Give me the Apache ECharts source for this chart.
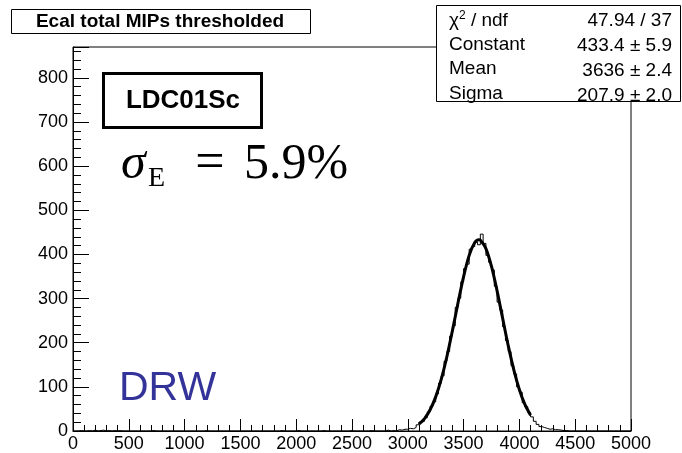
<!DOCTYPE html>
<html><head><meta charset="utf-8">
<script src="https://cdn.jsdelivr.net/npm/echarts@6/dist/echarts.min.js"></script>
<style>html,body{margin:0;padding:0;background:#fff}#c{width:682px;height:453px}</style>
</head><body><div id="c"></div>
<script>
// ---- data ----
const binWidth = 25;
const xMin = 0, xMax = 5000;
const yMin = 0, yMax = 870;
// non-empty histogram bins: left edge and count
const histBinStart = [50,125,175,225,250,300,350,400,700,1175,1850,2000,2225,2475,2650,2800,2850,2900,2925,2950,2975,
  3000,3025,3050,3075,3100,3125,3150,3175,3200,3225,3250,3275,3300,3325,3350,3375,3400,3425,3450,3475,
  3500,3525,3550,3575,3600,3625,3650,3675,3700,3725,3750,3775,3800,3825,3850,3875,3900,3925,3950,3975,
  4000,4025,4050,4075,4100,4125,4150,4175,4200,4225,4250,4275,4300,4325,4350,4375,4400];
const histCounts = [1,1,2,1,2,1,1,1,1,1,1,1,1,1,1,2,1,3,2,4,4,
  6,5,8,14,20,22,30,43,56,66,84,108,125,158,180,215,238,280,301,338,
  368,378,412,418,428,422,446,425,398,382,365,328,292,274,236,205,180,148,129,100,
  88,64,55,42,32,22,15,10,8,6,4,5,3,3,2,1,1];
// gaussian fit curve (as drawn)
const fitX = [3100,3150,3200,3250,3300,3350,3400,3450,3500,3550,3600,3636,3650,3700,3750,3800,3850,3900,3950,4000,4050,4100];
const fitY = [15.6,28.2,48.1,77.3,117.4,168.2,227.5,290.5,349.9,397.9,426.9,433.4,432.4,413.3,372.9,317.6,255.1,193.5,138.6,93.6,59.7,35.9];
const titleText = 'Ecal total MIPs thresholded';
const statsLabels = ['{n|χ}{s|2}{n| / ndf}', 'Constant', 'Mean', 'Sigma'];
const statsValues = ['47.94 / 37', '433.4 ± 5.9', '3636 ± 2.4', '207.9 ± 2.0'];
const detectorLabel = 'LDC01Sc';
const resolutionLabel = '5.9%';
const authorLabel = 'DRW';

// ---- build histogram steps ----
const nBins = Math.round((xMax - xMin) / binWidth);
const counts = new Array(nBins).fill(0);
histBinStart.forEach((s, i) => { counts[Math.round((s - xMin) / binWidth)] = histCounts[i]; });
const histData = [];
for (let i = 0; i < nBins; i++) histData.push([xMin + i * binWidth, counts[i]]);
histData.push([xMax, counts[nBins - 1]]);
const fitData = fitX.map((x, i) => [x, fitY[i]]);

const FONT = '"Liberation Sans", Arial, Helvetica, sans-serif';
const SERIF = '"Liberation Serif", "DejaVu Serif", serif';

const chart = echarts.init(document.getElementById('c'), null, {renderer: 'canvas'});
const axisCommon = {
  axisLine: {show: true, onZero: false, lineStyle: {color: '#000', width: 1}},
  splitLine: {show: false},
  axisLabel: {color: '#000', fontFamily: FONT, fontSize: 18, formatter: v => String(v)},
};
const statsGraphics = [];
statsLabels.forEach((t, i) => {
  const y = 21 + i * 24.8;
  statsGraphics.push({type: 'text', left: 449, top: y - 11, z: 101,
    style: {text: t, fontFamily: FONT, fontSize: 19, fill: '#000',
      rich: {n: {fontFamily: FONT, fontSize: 19, fill: '#000'}, s: {fontFamily: FONT, fontSize: 12, fill: '#000', verticalAlign: 'top', padding: [0, 0, 9, 0]}}}});
  statsGraphics.push({type: 'text', x: 672, y: y, z: 101,
    style: {text: statsValues[i], fontFamily: FONT, fontSize: 19, fill: '#000', align: 'right', verticalAlign: 'middle'}});
});

chart.setOption({
  animation: false,
  backgroundColor: '#fff',
  grid: {left: 73, right: 51, top: 47, bottom: 18, show: true, borderColor: '#000', borderWidth: 1, backgroundColor: 'transparent'},
  xAxis: Object.assign({}, axisCommon, {
    type: 'value', min: xMin, max: xMax, interval: 500,
    axisTick: {show: true, inside: true, length: 12, lineStyle: {color: '#000'}},
    minorTick: {show: true, splitNumber: 5, length: 6, lineStyle: {color: '#000'}},
    axisLabel: Object.assign({}, axisCommon.axisLabel, {margin: 4})
  }),
  yAxis: Object.assign({}, axisCommon, {
    type: 'value', min: yMin, max: yMax, interval: 100,
    axisTick: {show: true, inside: true, length: 16, lineStyle: {color: '#000'}},
    minorTick: {show: true, splitNumber: 5, length: 8, lineStyle: {color: '#000'}},
    axisLabel: Object.assign({}, axisCommon.axisLabel, {margin: 5, showMaxLabel: false})
  }),
  series: [
    {type: 'line', data: histData, step: 'end', symbol: 'none', lineStyle: {color: '#000', width: 1}, z: 2},
    {type: 'line', data: fitData, smooth: 0.3, symbol: 'none', lineStyle: {color: '#000', width: 3}, z: 3}
  ],
  graphic: [
    {type: 'rect', shape: {x: 11.5, y: 9.5, width: 299, height: 24}, z: 100, style: {fill: '#fff', stroke: '#000', lineWidth: 1}},
    {type: 'text', x: 160, y: 22, z: 101, style: {text: titleText, fontFamily: FONT, fontWeight: 'bold', fontSize: 19, fill: '#000', align: 'center', verticalAlign: 'middle'}},
    {type: 'rect', shape: {x: 436.5, y: 5.5, width: 244, height: 96}, z: 100, style: {fill: '#fff', stroke: '#000', lineWidth: 1}},
    ...statsGraphics,
    {type: 'rect', shape: {x: 103.5, y: 73.5, width: 158, height: 54}, z: 100, style: {fill: '#fff', stroke: '#000', lineWidth: 3}},
    {type: 'text', x: 183, y: 101, z: 101, style: {text: detectorLabel, fontFamily: FONT, fontWeight: 'bold', fontSize: 26, fill: '#000', align: 'center', verticalAlign: 'middle'}},
    {type: 'text', x: 121, y: 140, z: 101, style: {text: 'σ', fontFamily: SERIF, fontStyle: 'italic', fontSize: 50, fill: '#000', align: 'left', verticalAlign: 'top'}},
    {type: 'text', x: 148, y: 165, z: 101, style: {text: 'E', fontFamily: SERIF, fontSize: 28, fill: '#000', align: 'left', verticalAlign: 'top'}},
    {type: 'text', x: 210, y: 138, z: 101, style: {text: '=', fontFamily: SERIF, fontSize: 52, fill: '#000', align: 'center', verticalAlign: 'top'}},
    {type: 'text', x: 244, y: 140, z: 101, style: {text: resolutionLabel, fontFamily: SERIF, fontSize: 50, fill: '#000', align: 'left', verticalAlign: 'top'}},
    {type: 'text', x: 119, y: 389, z: 101, style: {text: authorLabel, fontFamily: FONT, fontSize: 41, fill: '#333399', align: 'left', verticalAlign: 'middle'}}
  ]
});
</script></body></html>
